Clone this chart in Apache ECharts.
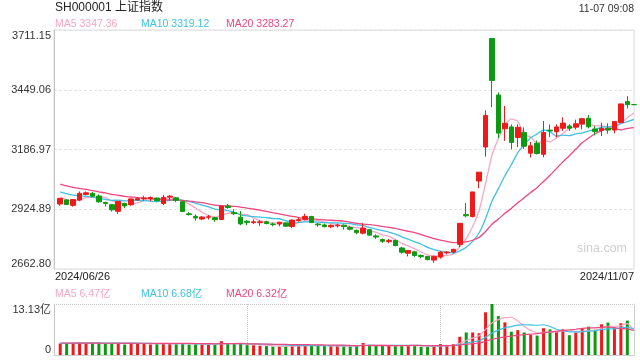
<!DOCTYPE html>
<html><head><meta charset="utf-8">
<script src="https://cdn.jsdelivr.net/npm/echarts@6/dist/echarts.min.js"></script>
<style>html,body{margin:0;padding:0;background:#fff}#c{width:640px;height:360px}</style>
</head><body><div id="c"></div>
<script>
const dates = ['2024/06/26','2024/06/27','2024/06/28',
'2024/07/01','2024/07/02','2024/07/03','2024/07/04','2024/07/05','2024/07/08','2024/07/09','2024/07/10','2024/07/11','2024/07/12','2024/07/15','2024/07/16','2024/07/17','2024/07/18','2024/07/19','2024/07/22','2024/07/23','2024/07/24','2024/07/25','2024/07/26','2024/07/29','2024/07/30','2024/07/31',
'2024/08/01','2024/08/02','2024/08/05','2024/08/06','2024/08/07','2024/08/08','2024/08/09','2024/08/12','2024/08/13','2024/08/14','2024/08/15','2024/08/16','2024/08/19','2024/08/20','2024/08/21','2024/08/22','2024/08/23','2024/08/26','2024/08/27','2024/08/28','2024/08/29','2024/08/30',
'2024/09/02','2024/09/03','2024/09/04','2024/09/05','2024/09/06','2024/09/09','2024/09/10','2024/09/11','2024/09/12','2024/09/13','2024/09/18','2024/09/19','2024/09/20','2024/09/23','2024/09/24','2024/09/25','2024/09/26','2024/09/27','2024/09/30',
'2024/10/08','2024/10/09','2024/10/10','2024/10/11','2024/10/14','2024/10/15','2024/10/16','2024/10/17','2024/10/18','2024/10/21','2024/10/22','2024/10/23','2024/10/24','2024/10/25','2024/10/28','2024/10/29','2024/10/30','2024/10/31',
'2024/11/01','2024/11/04','2024/11/05','2024/11/06','2024/11/07'];

const opens = [2948,2966,2942,
2965,2990,2995,2983,2955,2945,2916,2950,2945,2966,2970,2972,2974,2950,2978,2975,2958,2905,2894,2882,2890,2888,2880,
2939,2910,2890,2872,2866,2866,2870,2860,2860,2865,2849,2875,2880,2893,2860,2856,2848,2852,2855,2845,2832,2820,
2835,2808,2792,2783,2788,2755,2732,2738,2722,2718,2702,2715,2734,2737,2770.75,2901.41,2893,3049,3198,
3674.40,3426,3278,3286,3240,3262,3171,3214,3166,3272,3265,3280,3290,3285,3299,3324,3277,3270,
3280,3272,3305,3397,3383.78];

const highs = [2974,2969,2970,
3003,3003,3000,2990,2958,2948,2962,2954,2972,2979,2984,2981,2976,2988,2987,2978,2962,2913,2902,2895,2900,2892,2940,
2948,2925,2917,2878,2880,2877,2875,2866,2870,2868,2880,2890,2905,2896,2865,2862,2858,2862,2858,2852,2836,2863,
2838,2815,2796,2795,2792,2760,2745,2742,2727,2720,2721,2741,2741,2752,2863.13,2952.45,3000.95,3087.53,3358.59,
3674.40,3437,3378,3297,3297,3284,3220,3226,3312,3297,3297,3328,3298,3318,3326,3338,3290,3305,
3302,3311,3387,3421,3383.78];

const lows = [2940,2943,2936,
2960,2985,2978,2953,2937,2915,2905,2930,2940,2962,2962,2960,2958,2944,2963,2956,2912,2897,2875,2877,2880,2870,2878,
2927,2900,2855,2855,2860,2852,2859,2850,2850,2848,2843,2870,2876,2864,2848,2845,2842,2845,2836,2832,2815,2815,
2810,2795,2778,2776,2762,2730,2718,2716,2710,2701,2689.70,2708,2727,2732,2759,2889.05,2889,3017,3156,
3373,3237,3225,3188,3197,3190,3152,3165,3153,3241,3240,3268,3268,3275,3275,3280,3249,3246,
3256,3258,3303,3367,3383.78];

const closes = [2972.53,2945.85,2967.40,
2994.73,2997.01,2982.38,2957.57,2949.93,2922.45,2959.37,2939.36,2970.39,2971.30,2974.01,2976.30,2962.61,2977.13,2982.31,2964.22,2915.37,2901.95,2886.74,2890.90,2891.85,2879.30,2938.75,
2932.39,2905.34,2860.70,2867.28,2869.90,2869.83,2862.19,2858.20,2867.95,2850.65,2877.36,2879.43,2893.67,2866.66,2856.58,2848.77,2854.37,2855.52,2848.73,2837.43,2823.11,2842.21,
2811.37,2802.98,2784.28,2788.31,2765.81,2736.49,2744.19,2721.80,2717.12,2704.09,2717.28,2736.02,2736.81,2748.92,2863.13,2896.31,3000.95,3087.53,3336.50,
3489.78,3258.86,3301.93,3217.74,3284.32,3201.29,3202.95,3169.38,3261.56,3268.11,3285.87,3302.80,3280.26,3299.70,3322.20,3286.41,3266.24,3279.82,
3272.01,3310.21,3386.99,3383.81,3383.78];

// volume in 亿
const volumes = [2.95,3.10,3.05,
3.25,3.05,3.10,3.15,2.85,3.10,3.20,2.70,3.05,2.95,2.90,2.75,2.80,3.10,2.90,2.85,3.00,2.70,2.85,2.70,2.65,2.75,3.55,
3.10,2.80,3.05,2.55,2.50,2.40,2.30,2.15,2.20,2.20,2.55,2.50,2.65,2.55,2.35,2.30,2.25,2.30,2.30,2.35,2.45,3.10,
2.65,2.40,2.40,2.30,2.35,2.55,2.50,2.45,2.15,2.10,2.25,2.80,2.55,2.80,4.70,5.80,5.80,5.60,11.00,
13.13,10.00,8.40,6.00,6.40,5.80,5.20,5.00,6.90,6.60,6.00,6.60,5.10,5.80,6.90,7.30,6.50,7.90,
8.35,6.98,8.17,8.86,0];

// sessions before the first visible day (used only by the moving averages)
const priorCloses = [3111.02,3091.68,3086.81,3078.49,3091.20,3065.40,3048.79,3051.28,3028.05,3037.47,3028.92,3032.63,3015.89,3030.25,3018.05,3005.44,2998.14,2963.10,2950.00];
const priorVolumes = [3.4,3.3,3.6,3.3,3.1,3.2,3.0,3.1,3.2,3.0,2.9,2.8,2.8,2.9,3.0,2.9,3.3,3.2,2.9];

const priceTicks = [2662.80, 2924.89, 3186.97, 3449.06, 3711.15];
const volumeTicks = [0, 13.13];
const maPeriods = [5, 10, 20];
const titleText = 'SH000001 上证指数';
const timeText = '11-07 09:08';
const watermark = 'sina.com';

const RED = '#f0191a', GREEN = '#0c9b10';
const MA_COLORS = ['#f9a6c5', '#3fc2e4', '#ee4680'];
const FONT = '"Liberation Sans","Noto Sans CJK SC",sans-serif';

function movingAverage(prior, vals, n) {
  const all = prior.concat(vals);
  const off = prior.length;
  return vals.map((_, i) => {
    const end = off + i, start = end - n + 1;
    if (start < 0) return '-';
    let s = 0;
    for (let k = start; k <= end; k++) s += all[k];
    return s / n;
  });
}

const priceMA = maPeriods.map(n => movingAverage(priorCloses, closes, n));
const volMA = maPeriods.map(n => movingAverage(priorVolumes, volumes, n));
const candleData = dates.map((d, i) => [opens[i], closes[i], lows[i], highs[i]]);
const volData = volumes.map((v, i) => ({
  value: v,
  itemStyle: { color: closes[i] >= opens[i] && !(i > 0 && closes[i] === opens[i] && closes[i] < closes[i-1]) ? (closes[i] > opens[i] ? RED : GREEN) : GREEN }
}));

const pMin = priceTicks[0], pMax = priceTicks[priceTicks.length - 1];
const vMax = volumeTicks[volumeTicks.length - 1];

const MAIN_TOP = 30, MAIN_H = 239, VOL_TOP = 304, VOL_H = 51;
const FRAME_L = 54, DATA_L = 57, W = 580;

function legendTexts(y, arr, suffix) {
  const xs = [55, 141, 226];
  return maPeriods.map((n, k) => ({
    type: 'text', x: xs[k], y: y, silent: true,
    style: { text: 'MA' + n + ' ' + arr[k][arr[k].length - 1].toFixed(2) + suffix,
      fill: MA_COLORS[k], font: '10.5px ' + FONT, verticalAlign: 'middle', align: 'left' }
  }));
}

const chart = echarts.init(document.getElementById('c'), null, { renderer: 'canvas' });
chart.setOption({
  animation: false,
  backgroundColor: '#fff',
  grid: [
    { left: FRAME_L, top: MAIN_TOP, width: W, height: MAIN_H, show: true, borderColor: '#dcdcdc', borderWidth: 1, backgroundColor: 'transparent' },
    { left: DATA_L, top: MAIN_TOP, width: W, height: MAIN_H },
    { left: FRAME_L, top: VOL_TOP, width: W, height: VOL_H },
    { left: DATA_L, top: VOL_TOP, width: W, height: VOL_H }
  ],
  xAxis: [
    { gridIndex: 0, type: 'value', min: 0, max: 1, show: false },
    { gridIndex: 1, type: 'category', data: dates, show: false, boundaryGap: true },
    { gridIndex: 2, type: 'value', min: 0, max: 3, interval: 1, position: 'bottom',
      axisLine: { show: true, lineStyle: { color: '#d0d0d0' } }, axisTick: { show: false }, axisLabel: { show: false },
      splitLine: { show: true, lineStyle: { color: '#c8c8c8', type: [1, 1], width: 1 } } },
    { gridIndex: 3, type: 'category', data: dates, show: false, boundaryGap: true }
  ],
  yAxis: [
    { gridIndex: 0, type: 'value', min: pMin, max: pMax, position: 'left',
      axisLine: { show: true, lineStyle: { color: '#c4c4c4' } },
      axisTick: { show: false, customValues: priceTicks },
      axisLabel: { show: true, customValues: priceTicks, margin: 3, color: '#333', fontSize: 11, fontFamily: FONT,
        formatter: v => v.toFixed(2), verticalAlignMinLabel: 'bottom', verticalAlignMaxLabel: 'top' },
      splitLine: { show: true, lineStyle: { color: '#e2e2e2', type: [3, 2], width: 1 } } },
    { gridIndex: 1, type: 'value', min: pMin, max: pMax, show: false, splitLine: { show: false } },
    { gridIndex: 2, type: 'value', min: 0, max: vMax, position: 'left',
      axisLine: { show: true, lineStyle: { color: '#c4c4c4' } },
      axisTick: { show: false, customValues: volumeTicks },
      axisLabel: { show: true, customValues: volumeTicks, margin: 3, color: '#333', fontSize: 11, fontFamily: FONT,
        formatter: v => v === 0 ? '0' : v.toFixed(2) + '亿', verticalAlignMinLabel: 'bottom', verticalAlignMaxLabel: 'top' },
      splitLine: { show: true, lineStyle: { color: '#c8c8c8', type: [1, 1], width: 1 } } },
    { gridIndex: 3, type: 'value', min: 0, max: vMax, show: false, splitLine: { show: false } },
    { gridIndex: 2, type: 'value', min: 0, max: vMax, position: 'right',
      axisLine: { show: true, onZero: false, lineStyle: { color: '#d0d0d0' } },
      axisTick: { show: false }, axisLabel: { show: false }, splitLine: { show: false } }
  ],
  series: [
    ...maPeriods.map((n, k) => ({
      type: 'line', name: 'MA' + n, xAxisIndex: 1, yAxisIndex: 1, data: priceMA[k],
      showSymbol: false, silent: true, smooth: 0.2,
      lineStyle: { color: MA_COLORS[k], width: 1.3 }, z: 2
    })),
    { type: 'candlestick', xAxisIndex: 1, yAxisIndex: 1, data: candleData, barWidth: 5,
      itemStyle: { color: RED, color0: GREEN, borderColor: RED, borderColor0: GREEN, borderWidth: 1 }, z: 3 },
    { type: 'bar', xAxisIndex: 3, yAxisIndex: 3, data: volData, barWidth: 3, z: 2 },
    ...maPeriods.map((n, k) => ({
      type: 'line', name: 'VMA' + n, xAxisIndex: 3, yAxisIndex: 3, data: volMA[k],
      showSymbol: false, silent: true, smooth: 0.2,
      lineStyle: { color: MA_COLORS[k], width: 1.2 }, z: 3
    }))
  ],
  graphic: [
    { type: 'text', x: 55, y: 8, silent: true, style: { text: titleText, fill: '#222', font: '12px ' + FONT, verticalAlign: 'middle', align: 'left' } },
    { type: 'text', x: 634, y: 9, silent: true, style: { text: timeText, fill: '#333', font: '10.5px ' + FONT, verticalAlign: 'middle', align: 'right' } },
    ...legendTexts(24, priceMA, ''),
    { type: 'text', x: 55, y: 277, silent: true, style: { text: dates[0], fill: '#222', font: '11px ' + FONT, verticalAlign: 'middle', align: 'left' } },
    { type: 'text', x: 634, y: 277, silent: true, style: { text: dates[dates.length - 1], fill: '#222', font: '11px ' + FONT, verticalAlign: 'middle', align: 'right' } },
    ...legendTexts(294, volMA, '亿'),
    { type: 'text', x: 602, y: 249, silent: true, style: { text: watermark, fill: '#cfcfcf', font: '12.5px ' + FONT, verticalAlign: 'middle', align: 'center' } }
  ]
});
</script>
</body></html>
